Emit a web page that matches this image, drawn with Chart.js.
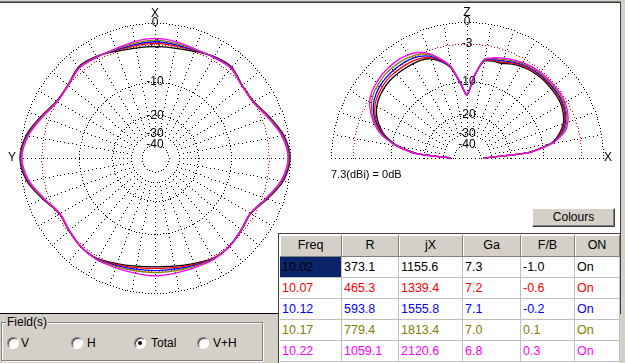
<!DOCTYPE html>
<html>
<head>
<meta charset="utf-8">
<script src="https://cdn.jsdelivr.net/npm/chart.js@4.4.0/dist/chart.umd.min.js"></script>
<style>
  html, body { margin: 0; padding: 0; }
  body { width: 625px; height: 363px; overflow: hidden; position: relative; background: #d4d0c8;
         font-family: "Liberation Sans", Arial, sans-serif; color: #000; }
  #plotArea { position: absolute; left: 0; top: 2px; width: 620px; height: 310px; background: #fff;
              border-top: 1px solid #404040; border-right: 1px solid #404040; border-bottom: 1px solid #000;
              box-shadow: 0 -1px 0 #808080; }
  canvas { position: absolute; top: 0; }
  #azimuth { left: 0; }
  #elevation { left: 310px; }
  #norm { position: absolute; left: 331px; top: 168px; font-size: 11px; line-height: 13px; white-space: nowrap; }
  #colours { position: absolute; left: 532px; top: 208px; width: 83px; height: 19px; box-sizing: border-box;
             background: #d4d0c8; border: 1px solid; border-color: #fff #404040 #404040 #fff;
             box-shadow: inset -1px -1px 0 #808080; font-size: 12px; line-height: 17px; text-align: center; z-index: 3; }
  #grid { position: absolute; left: 278px; top: 233px; width: 342px; height: 130px; background: #fff;
          border-left: 1px solid #404040; border-top: 1px solid #404040; box-sizing: border-box; z-index: 3; }
  .cell { position: absolute; box-sizing: border-box; font-size: 12.5px; white-space: nowrap; overflow: hidden; z-index: 4; }
  .head { background: #d4d0c8; border-right: 1px solid #808080; border-bottom: 1px solid #808080;
          box-shadow: inset 1px 1px 0 #fff; text-align: center; line-height: 20px; }
  .data { border-right: 1px solid #c0c0c0; border-bottom: 1px solid #c0c0c0; padding-left: 2px; line-height: 20px; }
  #group { position: absolute; left: 1px; top: 322px; width: 262px; height: 39px; box-sizing: border-box;
           border: 1px solid #808080; box-shadow: inset 1px 1px 0 #fff, 1px 1px 0 #fff; }
  #groupTitle { position: absolute; left: 6px; top: 316px; padding: 0 1px; background: #d4d0c8; font-size: 12px; line-height: 13px; }
  .radio { position: absolute; top: 337px; width: 12px; height: 12px; box-sizing: border-box; border-radius: 50%;
           border: 1px solid; border-color: #808080 #fff #fff #808080; background: #fff;
           box-shadow: inset 1px 1px 0 #404040; }
  .radio.on::after { content: ""; position: absolute; left: 3px; top: 3px; width: 4px; height: 4px; border-radius: 50%; background: #000; }
  .rlabel { position: absolute; top: 336px; font-size: 12px; line-height: 14px; }
</style>
</head>
<body>
<div id="plotArea"></div>
<canvas id="azimuth" width="310" height="313"></canvas>
<canvas id="elevation" width="315" height="300"></canvas>
<div id="norm">7.3(dBi) = 0dB</div>
<div id="colours">Colours</div>
<div id="grid"></div>
<div id="group"></div>
<div id="groupTitle">Field(s)</div>
<div class="radio" style="left:7px"></div><div class="rlabel" style="left:21px">V</div>
<div class="radio" style="left:71px"></div><div class="rlabel" style="left:87px">H</div>
<div class="radio on" style="left:134px"></div><div class="rlabel" style="left:151px">Total</div>
<div class="radio" style="left:197px"></div><div class="rlabel" style="left:213px">V+H</div>
<script>
// frequencies and table values
const freqs = [10.02, 10.07, 10.12, 10.17, 10.22];
const resR = [373.1, 465.3, 593.8, 779.4, 1059.1];
const resJX = [1155.6, 1339.4, 1555.8, 1813.4, 2120.6];
const gainGa = [7.3, 7.2, 7.1, 7.0, 6.8];
const fbRatio = [-1.0, -0.6, -0.2, 0.1, 0.3];
const onState = ['On', 'On', 'On', 'On', 'On'];
const seriesColors = ['#000000', '#ff0000', '#0000ff', '#808000', '#ff00ff'];

// dB rings of both plots
const ringDb = [0, -3, -10, -20, -30, -40];

// azimuth plot, screen angle clockwise from X (top), dB
const azDeg = [0, 10, 20, 30, 40, 50, 60, 70, 80, 90, 100, 110, 120, 130, 140, 150, 160, 170,
               180, 190, 200, 210, 220, 230, 240, 250, 260, 270, 280, 290, 300, 310, 320, 330, 340, 350];
const az1002 = [-3.35, -3.3, -3.0, -2.45, -2.2, -3.0, -3.0, -1.85, -0.55, 0, -0.6, -2.1, -3.45, -3.15, -2.7, -2.65, -3.2, -3.6,
                -3.75, -3.6, -3.2, -2.65, -2.7, -3.15, -3.45, -2.1, -0.6, 0, -0.55, -1.85, -3.0, -3.0, -2.2, -2.45, -3.0, -3.3];
const az1007 = [-2.85, -2.95, -2.85, -2.5, -2.25, -3.0, -3.0, -1.9, -0.6, -0.05, -0.65, -2.15, -3.45, -3.15, -2.7, -2.6, -3.05, -3.35,
                -3.5, -3.35, -3.05, -2.6, -2.7, -3.15, -3.45, -2.15, -0.65, -0.05, -0.6, -1.9, -3.0, -3.0, -2.25, -2.5, -2.85, -2.95];
const az1012 = [-2.6, -2.75, -2.8, -2.5, -2.3, -3.05, -3.05, -1.95, -0.65, -0.1, -0.7, -2.2, -3.5, -3.2, -2.7, -2.55, -2.9, -3.1,
                -3.15, -3.1, -2.9, -2.55, -2.7, -3.2, -3.5, -2.2, -0.7, -0.1, -0.65, -1.95, -3.05, -3.05, -2.3, -2.5, -2.8, -2.75];
const az1017 = [-2.35, -2.55, -2.7, -2.55, -2.35, -3.05, -3.1, -2.0, -0.75, -0.15, -0.8, -2.25, -3.5, -3.2, -2.7, -2.5, -2.75, -2.85,
                -2.85, -2.85, -2.75, -2.5, -2.7, -3.2, -3.5, -2.25, -0.8, -0.15, -0.75, -2.0, -3.1, -3.05, -2.35, -2.55, -2.7, -2.55];
const az1022 = [-2.1, -2.3, -2.6, -2.6, -2.4, -3.1, -3.15, -2.1, -0.85, -0.25, -0.9, -2.35, -3.55, -3.25, -2.7, -2.45, -2.55, -2.5,
                -2.35, -2.5, -2.55, -2.45, -2.7, -3.25, -3.55, -2.35, -0.9, -0.25, -0.85, -2.1, -3.15, -3.1, -2.4, -2.6, -2.6, -2.3];

// elevation plot, elevation angle 0 (X, right) .. 180 (left), dB
const elevDeg = [0, 5, 10, 15, 20, 25, 30, 35, 40, 45, 50, 55, 60, 65, 70, 75, 80, 85, 90,
                 95, 100, 105, 110, 115, 120, 125, 130, 135, 140, 145, 150, 155, 160, 165, 170, 175, 180];
const el1002 = [-37, -13.8, -8.0, -6.1, -4.9, -4.3, -3.95, -3.85, -3.85, -3.8, -3.9, -4.05, -4.3, -4.7, -5.2, -5.3, -5.6, -8.8, -13.4,
                -10.4, -6.9, -5.4, -4.4, -4.0, -3.9, -3.85, -3.8, -3.8, -3.95, -4.2, -4.65, -5.4, -6.6, -8.3, -11.3, -17.5, -37];
const el1007 = [-37, -13.7, -7.9, -5.85, -4.7, -4.1, -3.75, -3.65, -3.65, -3.65, -3.75, -3.9, -4.1, -4.5, -5.0, -5.15, -5.5, -8.8, -13.4,
                -10.35, -6.8, -5.3, -4.2, -3.7, -3.5, -3.45, -3.4, -3.4, -3.6, -3.85, -4.3, -5.1, -6.35, -8.1, -11.2, -17.25, -37];
const el1012 = [-37, -13.55, -7.8, -5.6, -4.5, -3.9, -3.6, -3.5, -3.5, -3.5, -3.6, -3.7, -3.95, -4.3, -4.75, -5.0, -5.45, -8.8, -13.4,
                -10.3, -6.75, -5.15, -3.95, -3.35, -3.1, -3.0, -3.0, -3.05, -3.2, -3.5, -4.0, -4.85, -6.1, -7.9, -11.1, -17, -37];
const el1017 = [-37, -13.4, -7.7, -5.35, -4.3, -3.75, -3.45, -3.3, -3.3, -3.35, -3.4, -3.55, -3.8, -4.15, -4.5, -4.85, -5.4, -8.8, -13.4,
                -10.25, -6.7, -5.0, -3.7, -3.0, -2.75, -2.6, -2.6, -2.65, -2.85, -3.1, -3.65, -4.55, -5.85, -7.7, -11.0, -16.75, -37];
const el1022 = [-37, -13.3, -7.6, -5.1, -4.1, -3.55, -3.25, -3.15, -3.15, -3.2, -3.25, -3.4, -3.6, -3.95, -4.3, -4.7, -5.3, -8.8, -13.4,
                -10.2, -6.6, -4.9, -3.5, -2.7, -2.35, -2.2, -2.2, -2.3, -2.5, -2.75, -3.3, -4.3, -5.6, -7.5, -10.9, -16.5, -37];

Chart.defaults.font.family = '"Liberation Sans", Arial, sans-serif';

// radial scale in dB: r = R * 10^(dB/40), dotted grid like the original program
class DbRadialScale extends Chart.RadialLinearScale {
  static id = 'dbRadial';

  getDistanceFromCenterForValue(value) {
    if (value === null || value === undefined || isNaN(value)) return NaN;
    return this.drawingArea * Math.pow(10, (value - this.max) / 40);
  }

  drawGrid() {
    const ctx = this.ctx;
    const cx = this.xCenter, cy = this.yCenter, R = this.drawingArea;
    const half = this.options.halfPlane;
    const a0 = half ? Math.PI : 0, a1 = 2 * Math.PI;
    ctx.save();
    ringDb.forEach((db) => {
      const r = this.getDistanceFromCenterForValue(db);
      const n = Math.round((a1 - a0) * r / 3);
      ctx.fillStyle = db === -3 ? '#ff0000' : '#000000';
      for (let k = 0; k <= n; k++) {
        const a = a0 + (a1 - a0) * k / n;
        ctx.fillRect(Math.round(cx + r * Math.cos(a)), Math.round(cy + r * Math.sin(a)), 1, 1);
      }
    });
    ctx.fillStyle = '#000000';
    const rIn = this.getDistanceFromCenterForValue(-30);
    const spokes = half ? 18 : 36;
    for (let s = half ? 1 : 0; s < spokes; s++) {
      const a = a0 + s * Math.PI / 18;
      for (let d = rIn + 4; d <= R; d += 4) {
        ctx.fillRect(Math.round(cx + d * Math.cos(a)), Math.round(cy + d * Math.sin(a)), 1, 1);
      }
    }
    if (half) {
      for (let x = cx - R; x <= cx + R; x += 4) ctx.fillRect(x, cy, 1, 1);
    }
    ctx.restore();
  }

  drawLabels() {
    const ctx = this.ctx;
    const cx = this.xCenter, cy = this.yCenter, R = this.drawingArea;
    const names = this.options.axisNames;
    ctx.save();
    ctx.fillStyle = '#000000';
    ctx.font = '12px "Liberation Sans", Arial, sans-serif';
    ctx.textAlign = 'center';
    ctx.textBaseline = 'middle';
    ringDb.forEach((db) => {
      ctx.fillText(String(db), cx, cy - this.getDistanceFromCenterForValue(db));
    });
    ctx.fillText(names.top, cx, cy - R - 9);
    if (names.left) ctx.fillText(names.left, cx - R - 8, cy);
    if (names.right) ctx.fillText(names.right, cx + R + 5, cy);
    ctx.restore();
  }
}
Chart.register(DbRadialScale);

function lineSets(list, tension) {
  return list.map((vals, i) => ({
    label: freqs[i].toFixed(2),
    data: vals,
    borderColor: seriesColors[i],
    borderWidth: 1.3,
    fill: false,
    tension: tension,
    pointRadius: 0,
    pointHitRadius: 0,
    spanGaps: false,
    order: list.length - 1 - i
  }));
}

function plotOptions(padding, extra) {
  return {
    responsive: false,
    animation: false,
    events: [],
    layout: { padding: padding },
    plugins: { legend: { display: false }, tooltip: { enabled: false } },
    scales: {
      r: Object.assign({
        type: 'dbRadial',
        min: -40,
        max: 0,
        ticks: { display: false },
        pointLabels: { display: false },
        angleLines: { display: false },
        grid: { display: false }
      }, extra)
    }
  };
}

// azimuth (full circle)
new Chart(document.getElementById('azimuth'), {
  type: 'radar',
  data: {
    labels: azDeg,
    datasets: lineSets([az1002, az1007, az1012, az1017, az1022], 0.3)
  },
  options: plotOptions({ left: 20, top: 23, right: 20, bottom: 20 },
    { startAngle: 0, halfPlane: false, axisNames: { top: 'X', left: 'Y' } })
});

// elevation (upper half); index 0 sits on the left horizon, below ground is empty
const belowGround = 72 - elevDeg.length;
const elLabels = elevDeg.slice().reverse().concat(Array(belowGround).fill(''));
const elSets = lineSets([el1002, el1007, el1012, el1017, el1022], 0.2);
elSets.forEach((ds) => { ds.data = ds.data.slice().reverse().concat(Array(belowGround).fill(null)); });

new Chart(document.getElementById('elevation'), {
  type: 'radar',
  data: { labels: elLabels, datasets: elSets },
  options: plotOptions({ left: 21, top: 22, right: 22, bottom: 6 },
    { startAngle: -90, halfPlane: true, axisNames: { top: 'Z', right: 'X' } })
});

// results table
const heads = ['Freq', 'R', 'jX', 'Ga', 'F/B', 'ON'];
const colX = [280, 342, 399, 463, 521, 575];
const colW = [62, 57, 64, 58, 54, 45];
const rows = freqs.map((f, i) => [f.toFixed(2), resR[i].toFixed(1), resJX[i].toFixed(1),
                                   gainGa[i].toFixed(1), fbRatio[i].toFixed(1), onState[i]]);
function addCell(cls, x, y, w, h, text, style) {
  const el = document.createElement('div');
  el.className = 'cell ' + cls;
  el.style.left = x + 'px';
  el.style.top = y + 'px';
  el.style.width = w + 'px';
  el.style.height = h + 'px';
  Object.assign(el.style, style || {});
  el.textContent = text;
  document.body.appendChild(el);
}
heads.forEach((h, c) => addCell('head', colX[c], 235, colW[c], 22, h));
rows.forEach((row, r) => {
  row.forEach((txt, c) => {
    const style = { color: seriesColors[r] };
    if (r === 0 && c === 0) style.background = '#0a246a';
    addCell('data', colX[c], 257 + r * 21, colW[c], 21, txt, style);
  });
});
</script>
</body>
</html>
